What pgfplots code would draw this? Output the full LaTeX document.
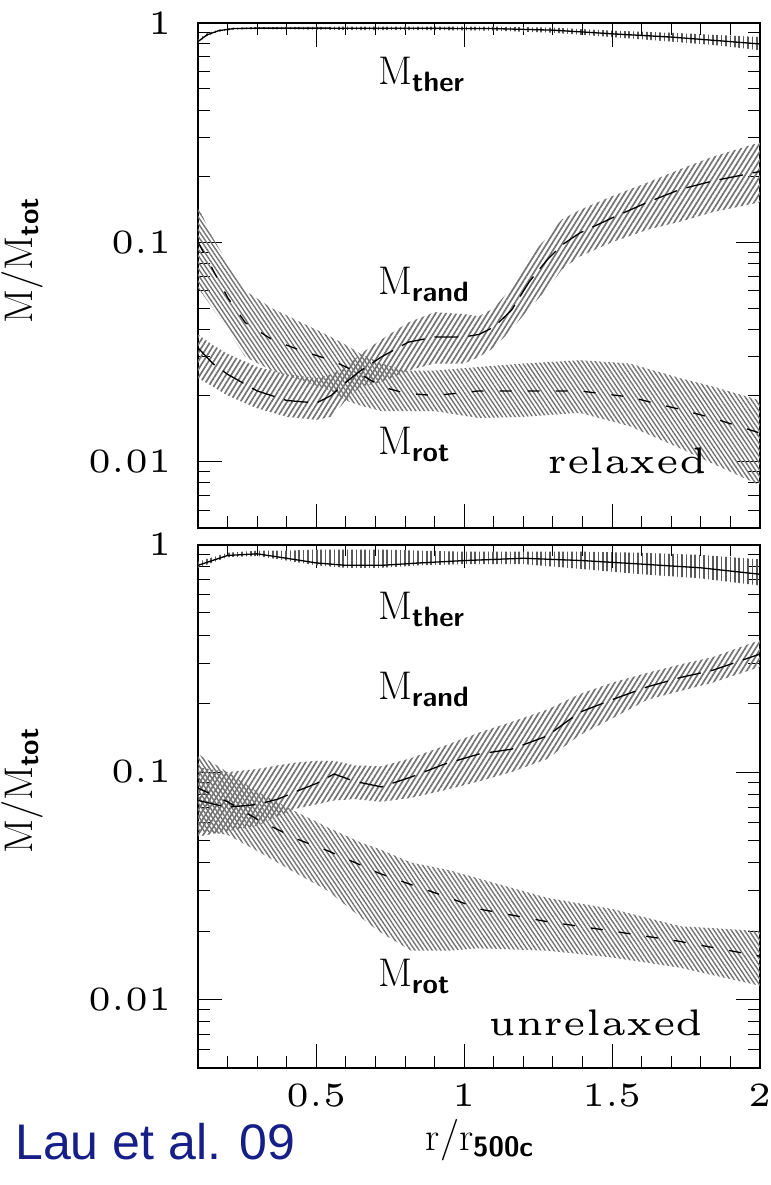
\documentclass[border=0pt]{standalone}
\usepackage{amsmath}
\usepackage{graphicx}
\usepackage{fontspec}
\usepackage{pgfplots}
\pgfplotsset{compat=1.18}
\usepackage{pgfplotstable}
\usepgfplotslibrary{fillbetween}
\usetikzlibrary{patterns.meta}

\newfontfamily\arialfont{Liberation Sans}
\definecolor{laublue}{RGB}{22,30,135}
% small optical size of Latin Modern, blown up (wide letters like the original)
\newcommand{\sm}[1]{\scalebox{3.4}{\fontfamily{lmr}\fontsize{5}{6}\selectfont #1}}
\newcommand{\wordlab}[1]{\scalebox{3.7}{\fontfamily{lmr}\fontsize{5}{6}\selectfont #1}}
\newcommand{\lab}[2]{$\mathrm{#1}_{\textsf{\textbf{#2}}}$}

% x  mid  lo  hi
\pgfplotstableread{
x mid lo hi
0.10 0.82 0.81 0.84
0.13 0.88 0.87 0.895
0.17 0.92 0.91 0.93
0.22 0.94 0.93 0.95
0.30 0.945 0.935 0.955
0.50 0.945 0.93 0.958
0.70 0.943 0.925 0.96
0.90 0.943 0.925 0.96
1.10 0.940 0.92 0.96
1.30 0.925 0.90 0.95
1.50 0.89 0.86 0.92
1.70 0.86 0.82 0.90
1.85 0.83 0.79 0.88
2.00 0.80 0.75 0.86
}\topther

\pgfplotstableread{
x mid lo hi
0.10 0.033 0.024 0.038
0.15 0.028 0.022 0.034
0.20 0.025 0.020 0.031
0.30 0.021 0.0175 0.027
0.40 0.019 0.0160 0.025
0.50 0.0185 0.0155 0.024
0.55 0.020 0.016 0.025
0.60 0.023 0.019 0.027
0.65 0.026 0.022 0.031
0.72 0.030 0.023 0.036
0.81 0.035 0.026 0.043
0.90 0.037 0.028 0.048
1.00 0.037 0.028 0.047
1.05 0.038 0.030 0.046
1.10 0.041 0.033 0.050
1.16 0.049 0.040 0.062
1.22 0.066 0.050 0.086
1.28 0.083 0.061 0.105
1.33 0.097 0.075 0.127
1.39 0.110 0.086 0.140
1.50 0.129 0.100 0.162
1.62 0.152 0.114 0.187
1.73 0.174 0.124 0.215
1.84 0.190 0.137 0.245
2.00 0.210 0.152 0.285
}\toprand

\pgfplotstableread{
x mid lo hi
0.10 0.100 0.062 0.145
0.15 0.075 0.050 0.105
0.20 0.056 0.040 0.080
0.26 0.043 0.030 0.060
0.35 0.036 0.026 0.050
0.45 0.032 0.0235 0.043
0.55 0.029 0.021 0.037
0.60 0.027 0.019 0.034
0.65 0.025 0.018 0.031
0.72 0.022 0.017 0.028
0.80 0.0205 0.017 0.026
0.90 0.020 0.017 0.026
1.05 0.021 0.0158 0.027
1.20 0.021 0.016 0.028
1.39 0.021 0.0167 0.029
1.56 0.0197 0.0145 0.028
1.73 0.0173 0.0115 0.024
1.84 0.0158 0.0098 0.022
2.00 0.0135 0.0078 0.019
}\toprot

\pgfplotstableread{
x mid lo hi
0.10 0.81 0.79 0.84
0.20 0.895 0.88 0.92
0.30 0.91 0.89 0.94
0.40 0.87 0.85 0.94
0.50 0.83 0.81 0.95
0.60 0.81 0.79 0.95
0.72 0.81 0.79 0.95
0.85 0.83 0.81 0.94
1.00 0.85 0.82 0.93
1.20 0.87 0.82 0.93
1.40 0.85 0.78 0.93
1.60 0.82 0.74 0.92
1.80 0.79 0.71 0.90
2.00 0.74 0.66 0.86
}\botther

\pgfplotstableread{
x mid lo hi
0.10 0.075 0.052 0.105
0.20 0.070 0.055 0.100
0.30 0.072 0.058 0.103
0.37 0.076 0.064 0.107
0.43 0.082 0.069 0.110
0.50 0.089 0.072 0.112
0.56 0.098 0.075 0.112
0.63 0.091 0.076 0.107
0.72 0.086 0.074 0.106
0.82 0.095 0.077 0.115
0.93 0.108 0.083 0.130
1.05 0.120 0.091 0.149
1.16 0.126 0.100 0.166
1.28 0.144 0.114 0.188
1.39 0.183 0.145 0.220
1.50 0.208 0.172 0.247
1.62 0.237 0.208 0.273
1.73 0.260 0.227 0.297
1.84 0.280 0.247 0.320
2.00 0.330 0.290 0.380
}\botrand

\pgfplotstableread{
x mid lo hi
0.10 0.085 0.055 0.120
0.20 0.074 0.053 0.100
0.30 0.062 0.045 0.082
0.43 0.051 0.036 0.067
0.54 0.045 0.030 0.057
0.65 0.039 0.023 0.049
0.71 0.036 0.020 0.046
0.82 0.032 0.0164 0.040
0.95 0.028 0.0164 0.037
1.05 0.025 0.0168 0.034
1.28 0.022 0.0164 0.028
1.50 0.020 0.0153 0.025
1.73 0.018 0.0138 0.021
2.00 0.0155 0.0115 0.020
}\botrot

\tikzset{
  randpat/.style={draw=none, pattern={Lines[angle=58,distance=2.2pt,line width=0.85pt]}, pattern color=black!55},
  rotpat/.style={draw=none, pattern={Lines[angle=-56,distance=1.8pt,line width=0.7pt]}, pattern color=black!55},
  therpat/.style={draw=none, pattern={Lines[angle=90,distance=2.2pt,line width=0.75pt]}, pattern color=black!65},
  randline/.style={black, line width=0.65pt, dash pattern=on 12pt off 5pt},
  rotline/.style={black, line width=0.65pt, dash pattern=on 6pt off 8pt},
  therline/.style={black, line width=0.65pt},
  mlab/.style={anchor=base west, font=\fontsize{20}{24}\selectfont, inner sep=0pt},
}

\pgfplotsset{
  every axis/.append style={
    ymode=log, xmin=0.1, xmax=2, ymin=0.005, ymax=1,
    width=281pt, scale only axis,
    xtick={0.5,1,1.5,2},
    minor xtick={0.2,0.3,0.4,0.6,0.7,0.8,0.9,1.1,1.2,1.3,1.4,1.6,1.7,1.8,1.9},
    ytick={0.01,0.1,1},
    yticklabels={\sm{0.01},\sm{0.1},\sm{1}},
    minor ytick={0.005,0.006,0.007,0.008,0.009,0.02,0.03,0.04,0.05,0.06,0.07,0.08,0.09,0.2,0.3,0.4,0.5,0.6,0.7,0.8,0.9},
    tick align=inside,
    major tick length=12pt, minor tick length=6pt,
    tick style={black, line width=0.5pt},
    axis line style={line width=1pt},
    yticklabel style={inner sep=0pt, xshift=-13pt},
    xticklabel style={inner sep=0pt, yshift=-7.5pt},
    ylabel={$\mathrm{M}/\mathrm{M}_{\textsf{\textbf{tot}}}$},
    ylabel style={at={(axis description cs:-0.313,0.53)}, anchor=center, font=\fontsize{20}{24}\selectfont},
  }
}

\begin{document}
\begin{tikzpicture}

% relaxed
\begin{axis}[at={(0pt,0pt)}, anchor=north west, height=252.5pt,
  xticklabels={}]
\addplot[name path=th1, draw=none] table[x=x,y=hi]{\topther};
\addplot[name path=th2, draw=none] table[x=x,y=lo]{\topther};
\addplot[therpat] fill between[of=th1 and th2];
\addplot[name path=ra1, draw=none] table[x=x,y=hi]{\toprand};
\addplot[name path=ra2, draw=none] table[x=x,y=lo]{\toprand};
\addplot[randpat] fill between[of=ra1 and ra2];
\addplot[name path=ro1, draw=none] table[x=x,y=hi]{\toprot};
\addplot[name path=ro2, draw=none] table[x=x,y=lo]{\toprot};
\addplot[rotpat] fill between[of=ro1 and ro2];
\addplot[therline] table[x=x,y=mid]{\topther};
\addplot[randline] table[x=x,y=mid]{\toprand};
\addplot[rotline] table[x=x,y=mid]{\toprot};
\node[mlab] at (rel axis cs:0.32,0.877) {\lab{M}{ther}};
\node[mlab] at (rel axis cs:0.32,0.461) {\lab{M}{rand}};
\node[mlab] at (rel axis cs:0.32,0.144) {\lab{M}{rot}};
\node[anchor=base east, inner sep=0pt] at (rel axis cs:0.906,0.108) {\wordlab{relaxed}};
\end{axis}

% unrelaxed
\begin{axis}[at={(0pt,-260.9pt)}, anchor=north west, height=261.75pt,
  xticklabels={\sm{0.5},\sm{1},\sm{1.5},\sm{2}}]
\addplot[name path=bh1, draw=none] table[x=x,y=hi]{\botther};
\addplot[name path=bh2, draw=none] table[x=x,y=lo]{\botther};
\addplot[therpat] fill between[of=bh1 and bh2];
\addplot[name path=ba1, draw=none] table[x=x,y=hi]{\botrand};
\addplot[name path=ba2, draw=none] table[x=x,y=lo]{\botrand};
\addplot[randpat] fill between[of=ba1 and ba2];
\addplot[name path=bo1, draw=none] table[x=x,y=hi]{\botrot};
\addplot[name path=bo2, draw=none] table[x=x,y=lo]{\botrot};
\addplot[rotpat] fill between[of=bo1 and bo2];
\addplot[therline] table[x=x,y=mid]{\botther};
\addplot[randline] table[x=x,y=mid]{\botrand};
\addplot[rotline] table[x=x,y=mid]{\botrot};
\node[mlab] at (rel axis cs:0.32,0.856) {\lab{M}{ther}};
\node[mlab] at (rel axis cs:0.32,0.703) {\lab{M}{rand}};
\node[mlab] at (rel axis cs:0.32,0.155) {\lab{M}{rot}};
\node[anchor=base east, inner sep=0pt] at (rel axis cs:0.90,0.063) {\wordlab{unrelaxed}};
\end{axis}

% x label and credit below the lower panel
\node[anchor=base, inner sep=0pt, font=\fontsize{20}{24}\selectfont]
  at (141pt,-564pt) {$\mathrm{r}/\mathrm{r}_{\textsf{\textbf{500c}}}$};
\node[anchor=base west, inner sep=0pt, text=laublue, font=\arialfont\fontsize{25}{30}\selectfont]
  at (-91.5pt,-568.6pt) {Lau et al. 09};

\pgfresetboundingbox
\path[use as bounding box] (-99pt,11.35pt) rectangle (286.5pt,-581.15pt);
\end{tikzpicture}
\end{document}
